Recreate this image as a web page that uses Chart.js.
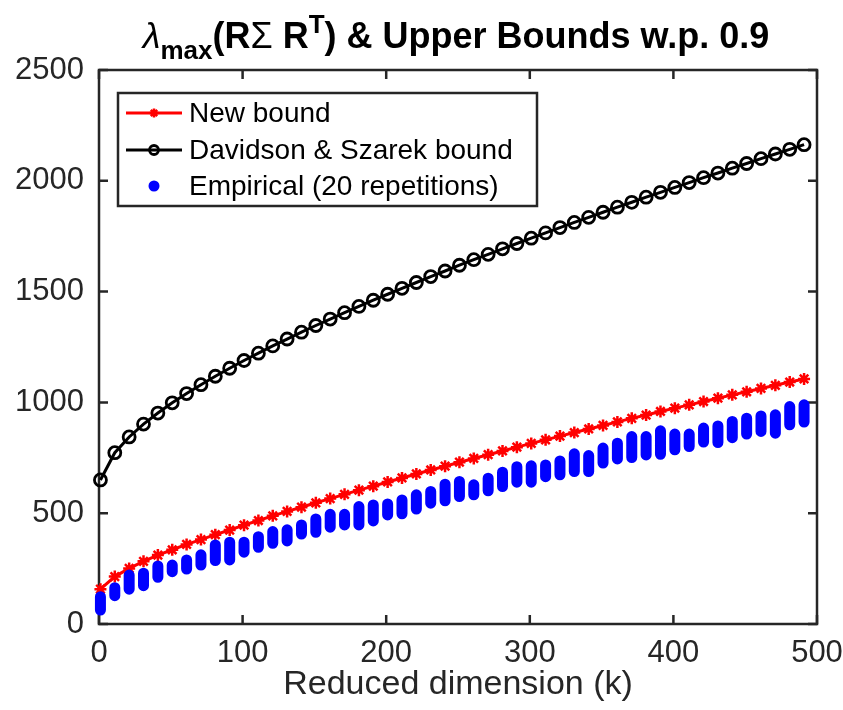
<!DOCTYPE html>
<html>
<head>
<meta charset="utf-8">
<script src="https://cdn.jsdelivr.net/npm/chart.js@4"></script>
<style>
  body { margin: 0; background: #fff; }
  #wrap { position: relative; width: 843px; height: 710px; }
  canvas { position: absolute; left: 0; top: 0; }
  #title {
    position: absolute; left: 0; top: 15px; width: 912px;
    text-align: center; white-space: nowrap; line-height: 1;
    font: bold 36px "Liberation Sans", Arial, sans-serif; color: #000;
  }
  #title .lam { font-weight: normal; font-style: italic; }
  #title sub { font-size: 26px; vertical-align: -11px; line-height: 0; }
  #title sup { font-size: 26px; vertical-align: 15px; line-height: 0; }
</style>
</head>
<body>
<div id="wrap">
  <canvas id="chart" width="843" height="710"></canvas>
  <div id="title"><span class="lam">λ</span><sub>max</sub>(R<span style="font-weight:normal">Σ</span> R<sup>T</sup>) &amp; Upper Bounds w.p. 0.9</div>
</div>
<script>
/**
 * Data
 */
const kValues = [1, 11, 21, 31, 41, 51, 61, 71, 81, 91, 101, 111, 121, 131, 141, 151, 161, 171, 181, 191,
  201, 211, 221, 231, 241, 251, 261, 271, 281, 291, 301, 311, 321, 331, 341, 351, 361, 371, 381, 391,
  401, 411, 421, 431, 441, 451, 461, 471, 481, 491];

const newBound = [157, 214, 251, 283, 311, 335, 359, 381, 403, 424, 446, 467, 488, 508, 527, 547, 566, 585, 604, 622,
  641, 659, 677, 695, 712, 730, 747, 764, 781, 798, 815, 831, 848, 864, 880, 896, 912, 928, 943, 959,
  974, 989, 1004, 1019, 1034, 1048, 1063, 1077, 1092, 1106];

const dsBound = [650, 773, 844, 902, 952, 998, 1040, 1080, 1118, 1154, 1189, 1222, 1255, 1286, 1317, 1347, 1376, 1405, 1433, 1461,
  1488, 1515, 1541, 1568, 1593, 1619, 1644, 1668, 1693, 1717, 1741, 1765, 1789, 1812, 1835, 1858, 1881, 1903, 1926, 1948,
  1970, 1992, 2014, 2035, 2057, 2078, 2100, 2121, 2142, 2163];

// lowest and highest of the 20 empirical repetitions at each k
const empLow = [63, 128, 157, 173, 211, 236, 248, 266, 286, 289, 324, 346, 364, 375, 406, 414, 437, 447, 447, 465,
  492, 497, 519, 545, 556, 575, 583, 601, 620, 640, 640, 665, 673, 688, 688, 726, 745, 751, 763, 766,
  786, 801, 821, 819, 841, 857, 869, 861, 899, 911];
const empHigh = [123, 164, 221, 229, 262, 266, 289, 312, 357, 369, 369, 394, 417, 425, 447, 474, 495, 495, 530, 537,
  542, 560, 583, 598, 631, 643, 628, 658, 685, 710, 714, 718, 736, 768, 760, 794, 816, 846, 846, 872,
  857, 857, 884, 894, 914, 929, 939, 944, 981, 989];

const xTicks = [0, 100, 200, 300, 400, 500];
const yTicks = [0, 500, 1000, 1500, 2000, 2500];

const seriesLabels = ['New bound', 'Davidson & Szarek bound', 'Empirical (20 repetitions)'];

/**
 * Helpers
 */
const FONT = '"Liberation Sans", Arial, sans-serif';
const AXIS_COLOR = '#262626';

const toPoints = (ys) => kValues.map((k, i) => ({ x: k, y: ys[i] }));

const empiricalSegments = () => {
  const pts = [];
  kValues.forEach((k, i) => {
    pts.push({ x: k, y: empLow[i] }, { x: k, y: empHigh[i] }, { x: k, y: null });
  });
  return pts;
};

// box with inward ticks on all four sides, like matlab
const matlabAxes = {
  id: 'matlabAxes',
  beforeDatasetsDraw(chart) {
    const { ctx, chartArea: a, scales: { x, y } } = chart;
    ctx.save();
    ctx.strokeStyle = AXIS_COLOR;
    ctx.lineWidth = 2.5;
    ctx.strokeRect(a.left, a.top, a.right - a.left, a.bottom - a.top);
    ctx.beginPath();
    xTicks.forEach(v => {
      const px = x.getPixelForValue(v);
      ctx.moveTo(px, a.bottom); ctx.lineTo(px, a.bottom - 9);
      ctx.moveTo(px, a.top); ctx.lineTo(px, a.top + 9);
    });
    yTicks.forEach(v => {
      const py = y.getPixelForValue(v);
      ctx.moveTo(a.left, py); ctx.lineTo(a.left + 9, py);
      ctx.moveTo(a.right, py); ctx.lineTo(a.right - 9, py);
    });
    ctx.stroke();
    ctx.restore();
  }
};

// matlab style legend: line sample with marker in the middle
const matlabLegend = {
  id: 'matlabLegend',
  afterDraw(chart) {
    const { ctx } = chart;
    const box = { left: 118, top: 93, right: 537, bottom: 206 };
    const rows = [113, 150, 186];
    ctx.save();
    ctx.fillStyle = '#fff';
    ctx.fillRect(box.left, box.top, box.right - box.left, box.bottom - box.top);
    ctx.strokeStyle = AXIS_COLOR;
    ctx.lineWidth = 2.5;
    ctx.strokeRect(box.left, box.top, box.right - box.left, box.bottom - box.top);

    chart.data.datasets.forEach((ds, i) => {
      const yy = rows[i];
      if (ds.legendLine) {
        ctx.strokeStyle = ds.borderColor;
        ctx.lineWidth = ds.borderWidth;
        ctx.beginPath();
        ctx.moveTo(126, yy); ctx.lineTo(182, yy);
        ctx.stroke();
        ctx.strokeStyle = ds.borderColor;
        ctx.fillStyle = ds.pointBackgroundColor;
        ctx.lineWidth = ds.pointBorderWidth;
        Chart.helpers.drawPoint(ctx, {
          pointStyle: ds.pointStyle, radius: ds.pointRadius * 0.75,
          borderWidth: ds.pointBorderWidth
        }, 154, yy);
      } else {
        ctx.fillStyle = ds.borderColor;
        ctx.beginPath();
        ctx.arc(154, yy, 5.5, 0, Math.PI * 2);
        ctx.fill();
      }
      ctx.fillStyle = '#000';
      ctx.font = '28px ' + FONT;
      ctx.textBaseline = 'middle';
      ctx.textAlign = 'left';
      ctx.fillText(ds.label, 189, yy + 1);
    });
    ctx.restore();
  }
};

/**
 * Chart
 */
const createGraphic = () => {
  const ctx = document.getElementById('chart').getContext('2d');

  new Chart(ctx, {
    type: 'line',
    data: {
      datasets: [
        {
          label: seriesLabels[0],
          data: toPoints(newBound),
          borderColor: '#ff0000',
          backgroundColor: '#ff0000',
          pointBackgroundColor: '#ff0000',
          borderWidth: 3,
          pointStyle: 'star',
          pointRadius: 6,
          pointBorderWidth: 2.5,
          legendLine: true,
          order: 1,
          clip: false
        },
        {
          label: seriesLabels[1],
          data: toPoints(dsBound),
          borderColor: '#000000',
          backgroundColor: '#000000',
          pointBackgroundColor: 'rgba(0,0,0,0)',
          borderWidth: 3,
          pointStyle: 'circle',
          pointRadius: 6,
          pointBorderWidth: 2.8,
          legendLine: true,
          order: 2,
          clip: false
        },
        {
          label: seriesLabels[2],
          data: empiricalSegments(),
          borderColor: '#0000ff',
          backgroundColor: '#0000ff',
          borderWidth: 11,
          borderCapStyle: 'round',
          pointRadius: 0,
          spanGaps: false,
          order: 0,
          clip: false
        }
      ]
    },
    options: {
      responsive: false,
      animation: false,
      events: [],
      layout: { padding: { left: 0, right: 26, top: 70, bottom: 0 } },
      plugins: {
        legend: { display: false },
        title: { display: false },
        tooltip: { enabled: false }
      },
      elements: { line: { tension: 0 } },
      scales: {
        x: {
          type: 'linear',
          min: 0,
          max: 500,
          afterBuildTicks: (s) => { s.ticks = xTicks.map(v => ({ value: v })); },
          afterFit: (s) => { s.height = 86; s.paddingLeft = 0; s.paddingRight = 0; },
          grid: { display: false, drawTicks: false },
          border: { display: false },
          ticks: {
            padding: 11,
            color: AXIS_COLOR,
            font: { family: FONT, size: 31 },
            maxRotation: 0,
            callback: (v) => String(v)
          },
          title: {
            display: true,
            text: 'Reduced dimension (k)',
            color: AXIS_COLOR,
            font: { family: FONT, size: 34 },
            padding: { top: 0, bottom: 5 }
          }
        },
        y: {
          min: 0,
          max: 2500,
          afterBuildTicks: (s) => { s.ticks = yTicks.map(v => ({ value: v })); },
          afterFit: (s) => { s.width = 99; s.paddingTop = 0; s.paddingBottom = 0; },
          grid: { display: false, drawTicks: false },
          border: { display: false },
          ticks: {
            padding: 15,
            color: AXIS_COLOR,
            font: { family: FONT, size: 31 },
            callback: (v) => String(v)
          }
        }
      }
    },
    plugins: [matlabAxes, matlabLegend]
  });
};

document.addEventListener('DOMContentLoaded', () => {
  createGraphic();
});
</script>
</body>
</html>
